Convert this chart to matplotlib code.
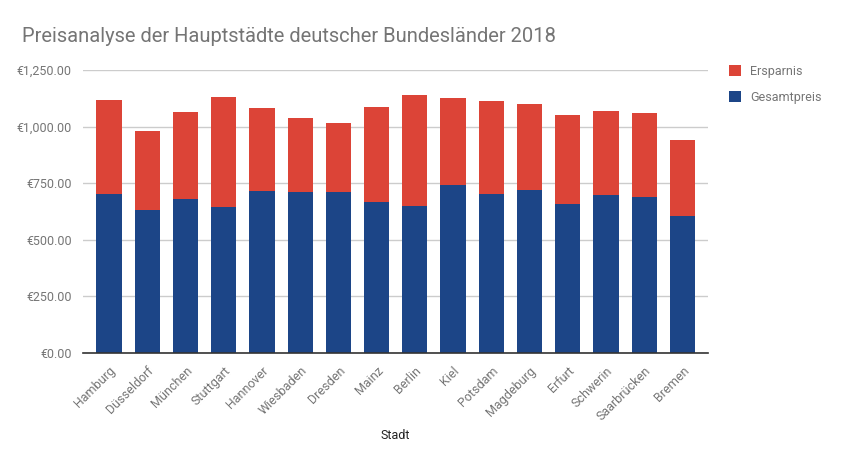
import matplotlib
matplotlib.use("Agg")
import matplotlib.pyplot as plt
import numpy as np
from matplotlib.ticker import FuncFormatter

plt.rcParams["font.family"] = ["Roboto", "DejaVu Sans"]

cities = ["Hamburg", "Düsseldorf", "München", "Stuttgart", "Hannover", "Wiesbaden",
          "Dresden", "Mainz", "Berlin", "Kiel", "Potsdam", "Magdeburg", "Erfurt",
          "Schwerin", "Saarbrücken", "Bremen"]
gesamtpreis = [703, 632, 681, 646, 716, 712, 712, 668, 650, 743, 703, 721, 659, 699, 690, 606]
ersparnis = [415, 349, 384, 485, 366, 326, 304, 419, 490, 383, 410, 379, 392, 370, 370, 335]
yticks = [0, 250, 500, 750, 1000, 1250]

BLUE = "#1c4587"
RED = "#dc4437"
GREY = "#757575"

fig = plt.figure(figsize=(8.45, 4.69), dpi=100)
ax = fig.add_axes([83 / 845, 1 - 353 / 469, 625 / 845, 283 / 469])

x = np.arange(len(cities))
ax.bar(x, gesamtpreis, width=0.66, color=BLUE, zorder=3, label="Gesamtpreis")
ax.bar(x, ersparnis, width=0.66, bottom=gesamtpreis, color=RED, zorder=3, label="Ersparnis")

ax.set_xlim(-0.68, 15.67)
ax.set_ylim(0, 1250)
ax.set_yticks(yticks)
ax.yaxis.set_major_formatter(FuncFormatter(lambda v, _: f"€{v:,.2f}"))
ax.grid(axis="y", color="#cccccc", linewidth=1, zorder=0)
for s in ["top", "right", "left"]:
    ax.spines[s].set_visible(False)
ax.spines["bottom"].set_color("#333333")
ax.spines["bottom"].set_linewidth(1.2)
ax.spines["bottom"].set_zorder(4)
ax.tick_params(axis="both", length=0, colors=GREY, labelsize=9)
ax.tick_params(axis="y", pad=8)
ax.set_xticks(x)
ax.set_xticklabels(cities, rotation=45, ha="right", va="top", rotation_mode="anchor")
ax.tick_params(axis="x", pad=8)
ax.set_xlabel("Stadt", fontsize=9, color="#222222")
ax.xaxis.set_label_coords(0.5, -0.27)

fig.text(22 / 845, 1 - 36 / 469, "Preisanalyse der Hauptstädte deutscher Bundesländer 2018",
         fontsize=14.5, color=GREY, va="center", ha="left")

handles, labels = ax.get_legend_handles_labels()
leg = fig.legend(handles[::-1], labels[::-1], loc="upper left",
                 bbox_to_anchor=(724 / 845, 1 - 60 / 469), frameon=False,
                 fontsize=9, handlelength=1.0, handleheight=1.0,
                 labelspacing=1.0, handletextpad=0.7, borderaxespad=0)
for t in leg.get_texts():
    t.set_color(GREY)

fig.savefig("out.png", dpi=100)
